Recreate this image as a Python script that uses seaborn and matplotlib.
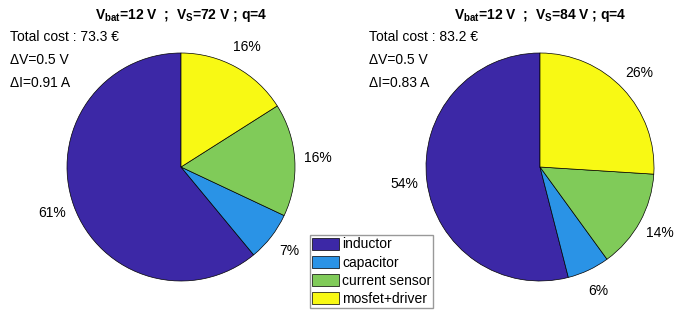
import numpy as np
import matplotlib
matplotlib.use("Agg")
import matplotlib.pyplot as plt
import seaborn as sns

# ----------------------------------------------------
# Data
# ----------------------------------------------------
parts = ['inductor', 'capacitor', 'current sensor', 'mosfet+driver']
share_72 = [61, 7, 16, 16]
share_84 = [54, 6, 14, 26]
titles = [r'V$_{\mathbf{bat}}$=12 V  ;  V$_{\mathbf{S}}$=72 V ; q=4',
          r'V$_{\mathbf{bat}}$=12 V  ;  V$_{\mathbf{S}}$=84 V ; q=4']
notes_72 = ['Total cost : 73.3 €', 'ΔV=0.5 V', 'ΔI=0.91 A']
notes_84 = ['Total cost : 83.2 €', 'ΔV=0.5 V', 'ΔI=0.83 A']

colors = ['#3C28A6', '#2A93E6', '#80CB59', '#F8F914']

sns.set_theme(style='white')
plt.rcParams['font.family'] = ['Liberation Sans', 'DejaVu Sans']
plt.rcParams['text.color'] = 'black'
plt.rcParams['mathtext.fontset'] = 'custom'
plt.rcParams['mathtext.rm'] = 'Liberation Sans'
plt.rcParams['mathtext.bf'] = 'Liberation Sans:bold'

W, H = 677, 313
fig = plt.figure(figsize=(W / 100, H / 100), dpi=100)

R = 114
centers = [(181, 167), (540, 167)]
wedges = None
for (cx, cy), vals, title, notes in zip(centers, [share_72, share_84], titles, [notes_72, notes_84]):
    ax = fig.add_axes([(cx - R) / W, (H - cy - R) / H, 2 * R / W, 2 * R / H])
    wedges, texts = ax.pie(vals, labels=[f'{v}%' for v in vals], colors=colors,
                           startangle=90, counterclock=True, labeldistance=1.2,
                           wedgeprops=dict(edgecolor='black', linewidth=0.5),
                           textprops=dict(fontsize=10, color='black'))
    # MATLAB style: labels centred on the 1.2 R point
    for t in texts:
        t.set_ha('center')
        t.set_va('center')
    ax.set_xlim(-1, 1)
    ax.set_ylim(-1, 1)
    ax.set_aspect('equal')
    fig.text(cx / W, 1 - 16 / H, title, ha='center', va='center',
             fontsize=10, fontweight='bold')
    for i, line in enumerate(notes):
        fig.text((cx - 171) / W, 1 - (37 + 23 * i) / H, line,
                 ha='left', va='center', fontsize=10)

fig.legend(wedges, parts, loc='lower left', bbox_to_anchor=(310 / W, 5 / H),
           borderaxespad=0, fontsize=10, handlelength=1.95, handleheight=0.95,
           handletextpad=0.2, labelspacing=0.3, borderpad=0.15,
           fancybox=False, framealpha=1, edgecolor='#999999')

plt.savefig('out.png', dpi=100)
